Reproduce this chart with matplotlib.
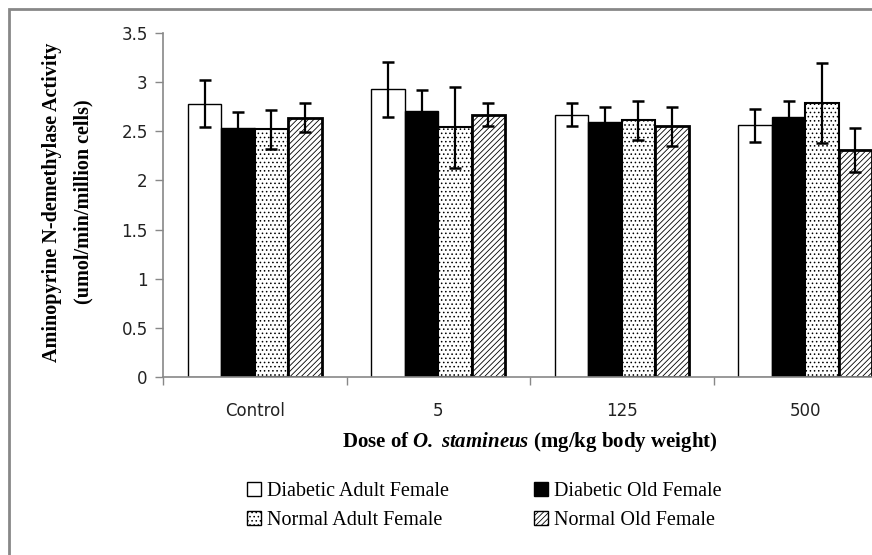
import matplotlib
matplotlib.use("Agg")
import matplotlib.pyplot as plt
from matplotlib.patches import Rectangle, Patch
import numpy as np

categories = ["Control", "5", "125", "500"]
series = ["Diabetic Adult Female", "Diabetic Old Female", "Normal Adult Female", "Normal Old Female"]
values = {
    "Diabetic Adult Female": [2.78, 2.93, 2.67, 2.56],
    "Diabetic Old Female":   [2.53, 2.71, 2.59, 2.65],
    "Normal Adult Female":   [2.52, 2.54, 2.61, 2.79],
    "Normal Old Female":     [2.64, 2.67, 2.55, 2.31],
}
errors = {
    "Diabetic Adult Female": [0.24, 0.28, 0.115, 0.167],
    "Diabetic Old Female":   [0.165, 0.215, 0.153, 0.16],
    "Normal Adult Female":   [0.20, 0.41, 0.195, 0.405],
    "Normal Old Female":     [0.145, 0.113, 0.20, 0.222],
}
yticks = [0, 0.5, 1, 1.5, 2, 2.5, 3, 3.5]
ytick_labels = ["0", "0.5", "1", "1.5", "2", "2.5", "3", "3.5"]

styles = [
    dict(facecolor="white", edgecolor="black", hatch=None, linewidth=1.0),
    dict(facecolor="black", edgecolor="black", hatch=None, linewidth=1.0),
    dict(facecolor="white", edgecolor="black", hatch="....", linewidth=1.5),
    dict(facecolor="white", edgecolor="black", hatch="//////", linewidth=2.0),
]

plt.rcParams["hatch.linewidth"] = 0.6
plt.rcParams["mathtext.fontset"] = "custom"
plt.rcParams["mathtext.rm"] = "Liberation Serif"
plt.rcParams["mathtext.it"] = "Liberation Serif:italic"
plt.rcParams["mathtext.bf"] = "Liberation Serif:bold"
plt.rcParams["mathtext.bfit"] = "Liberation Serif:italic:bold"

W, H = 872, 555
fig = plt.figure(figsize=(W / 100, H / 100), dpi=100)
ax_left, ax_right, ax_bottom, ax_top = 163, 897, 377, 33
ax = fig.add_axes([ax_left / W, 1 - ax_bottom / H, (ax_right - ax_left) / W, (ax_bottom - ax_top) / H])

x = np.arange(len(categories))
bw = 0.182
for i, s in enumerate(series):
    pos = x + (i - 1.5) * bw
    st = styles[i]
    ax.bar(pos, values[s], width=bw, facecolor=st["facecolor"], edgecolor=st["edgecolor"],
           hatch=st["hatch"], linewidth=st["linewidth"], zorder=2)
    ax.errorbar(pos, values[s], yerr=errors[s], fmt="none", ecolor="black",
                elinewidth=1.6, capsize=4.5, capthick=1.8, zorder=3)

ax.set_xlim(-0.5, len(categories) - 0.5)
ax.set_ylim(0, 3.5)
ax.set_yticks(yticks)
ax.set_yticklabels(ytick_labels, fontsize=12, family="DejaVu Sans", color="#222222")
ax.set_xticks(x)
ax.set_xticklabels(categories, fontsize=12, family="DejaVu Sans", color="#222222")
ax.set_xticks(np.arange(len(categories) + 1) - 0.5, minor=True)
ax.tick_params(axis="x", which="major", length=0, pad=18)
ax.tick_params(axis="x", which="minor", length=6, color="#888888", width=1)
ax.tick_params(axis="y", which="major", length=6, color="#888888", width=1, pad=5)
for sp in ["top", "right"]:
    ax.spines[sp].set_visible(False)
for sp in ["left", "bottom"]:
    ax.spines[sp].set_color("#888888")
    ax.spines[sp].set_linewidth(1.2)

fig.text(68 / W, 1 - 202 / H, "Aminopyrine N-demethylase Activity\n(umol/min/million cells)",
         rotation=90, ha="center", va="center", family="Liberation Serif", fontweight="bold",
         fontsize=14.5, linespacing=1.75, multialignment="center")

fig.text(530 / W, 1 - 442 / H, r"Dose of $\mathbfit{O.\ stamineus}$ (mg/kg body weight)",
         ha="center", va="center", family="Liberation Serif", fontweight="bold", fontsize=15)

handles = [Patch(facecolor=st["facecolor"], edgecolor="black", hatch=st["hatch"], linewidth=1.0)
           for st in styles]
order = [0, 2, 1, 3]
leg = fig.legend([handles[k] for k in order], [series[k] for k in order], loc="upper left",
                 bbox_to_anchor=(229 / W, 1 - 464 / H),
                 ncol=2, frameon=False, prop={"family": "Liberation Serif", "size": 14.5},
                 handlelength=0.7, handleheight=0.7, handletextpad=0.3, columnspacing=4.2,
                 labelspacing=0.5)

fig.patches.append(Rectangle((9 / W, -0.5), 2, 1.5 - 9 / H, transform=fig.transFigure,
                             fill=False, edgecolor="#888888", linewidth=2))

fig.savefig("out.png", dpi=100)
